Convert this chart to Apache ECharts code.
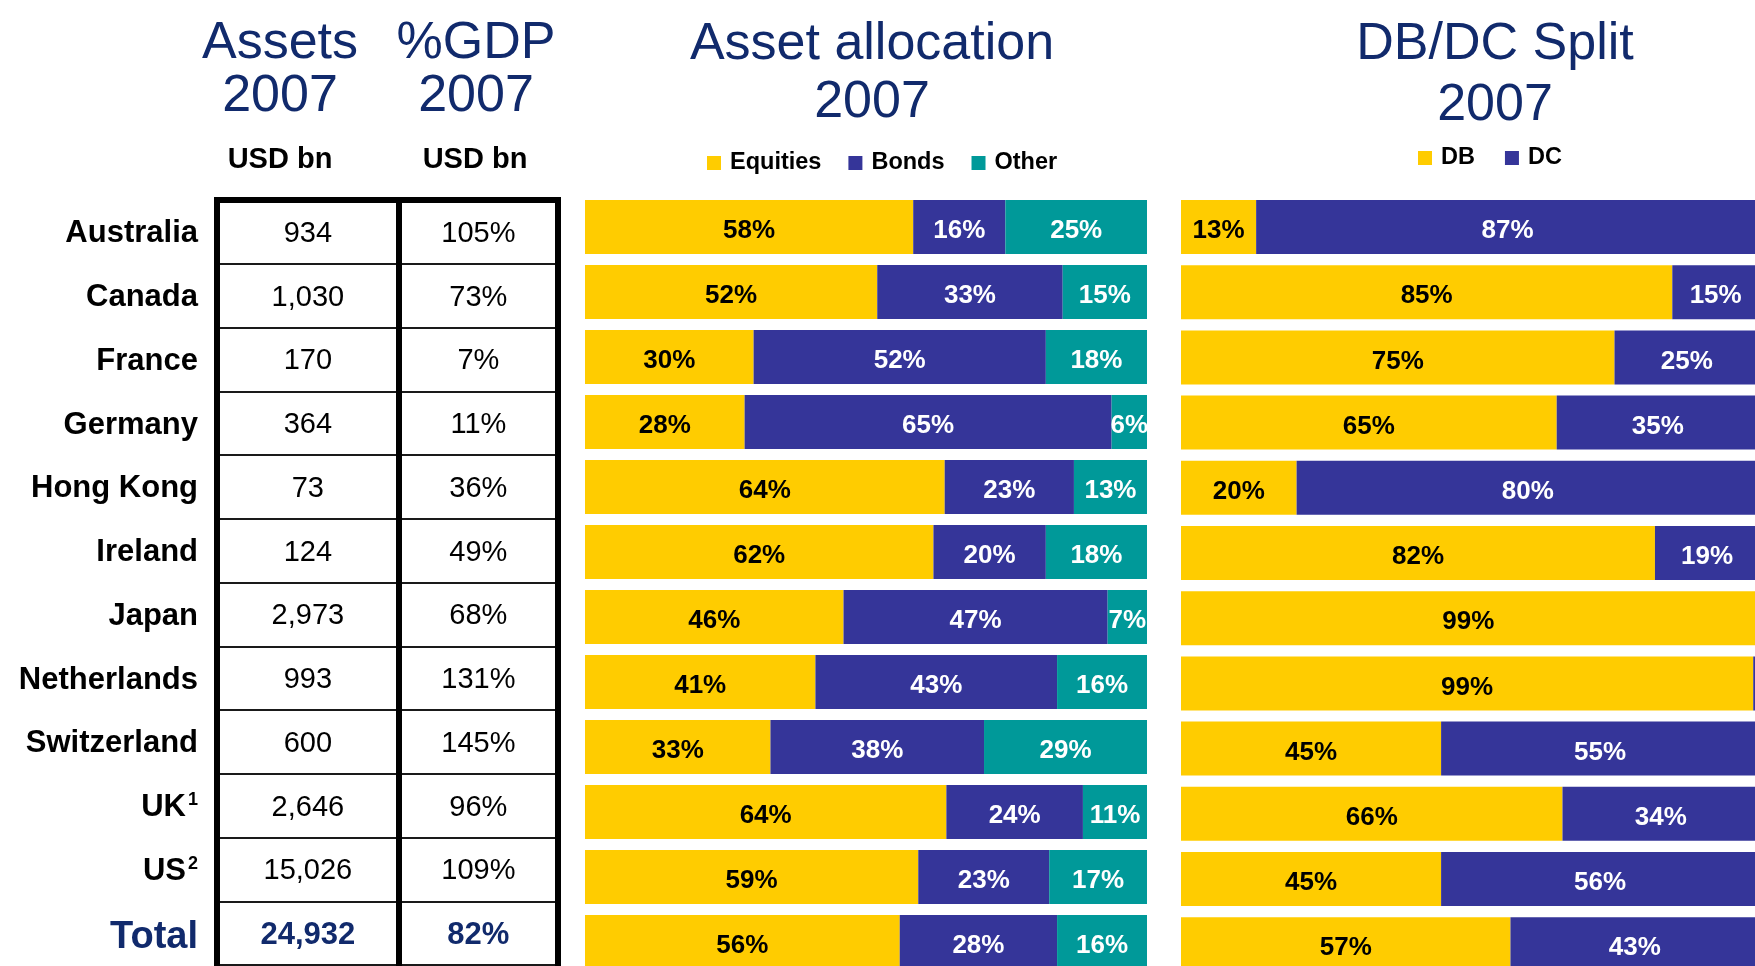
<!DOCTYPE html>
<html>
<head>
<meta charset="utf-8">
<title>Pension assets 2007</title>
<script src="https://cdn.jsdelivr.net/npm/echarts@6/dist/echarts.min.js"></script>
<style>
    html, body { margin: 0; padding: 0; background: #fff; }
    #chart { width: 1755px; height: 966px; }
</style>
</head>
<body>
<div id="chart"></div>
<script>
// data
let countries = ['Australia', 'Canada', 'France', 'Germany', 'Hong Kong', 'Ireland', 'Japan', 'Netherlands', 'Switzerland', 'UK', 'US', 'Total'];
let footnotes = ['', '', '', '', '', '', '', '', '', '1', '2', ''];
let assets = [934, 1030, 170, 364, 73, 124, 2973, 993, 600, 2646, 15026, 24932];
let gdpPct = [105, 73, 7, 11, 36, 49, 68, 131, 145, 96, 109, 82];

let assetNames = ['Equities', 'Bonds', 'Other'];
let equities = [58.4, 52, 30, 28.4, 64, 62, 46, 41, 33, 64.3, 59.3, 56];
let bonds = [16.4, 33, 52, 65.3, 23, 20, 47, 43, 38, 24.3, 23.3, 28];
let other = [25.2, 15, 18, 6.3, 13, 18, 7, 16, 29, 11.4, 17.4, 16];

let splitNames = ['DB', 'DC'];
let db = [13, 85, 75, 65, 20, 82, 99.4, 99, 45, 66, 45, 57];
let dc = [87, 15, 25, 35, 80, 19, 0.6, 1, 55, 34, 56, 43];

let font = '"Liberation Sans", Arial, sans-serif';
let navy = '#112a6c';
let yellow = '#ffcc00';
let blue = '#353599';
let teal = '#009999';
let totalIdx = countries.length - 1;

let thick = { show: true, onZero: false, lineStyle: { color: '#000', width: 6, cap: 'square' } };

function cellSeries(gridIdx, values, fmt) {
    return {
        type: 'scatter',
        xAxisIndex: gridIdx,
        yAxisIndex: gridIdx,
        symbolSize: 1,
        silent: true,
        itemStyle: { color: 'rgba(0,0,0,0)', opacity: 1 },
        label: {
            show: true,
            position: 'inside',
            offset: [0, 2],
            fontFamily: font,
            fontSize: 29,
            color: '#000',
            formatter: function (p) { return fmt(values[p.dataIndex]); }
        },
        data: values.map(function (v, i) {
            let item = { value: [0.5, i] };
            if (i === totalIdx) {
                item.label = { fontWeight: 'bold', fontSize: 31, color: navy };
            }
            return item;
        })
    };
}

function pctLabel(color, minShow) {
    return {
        show: true,
        position: 'inside',
        offset: [0, 4],
        fontFamily: font,
        fontWeight: 'bold',
        fontSize: 26,
        color: color,
        formatter: function (p) {
            return p.value < minShow ? '' : Math.round(p.value) + '%';
        }
    };
}

function titleText(x, y, text, lh) {
    return {
        type: 'text',
        x: x,
        y: y,
        style: {
            text: text,
            fill: navy,
            fontFamily: font,
            fontSize: 52,
            lineHeight: lh,
            align: 'center',
            verticalAlign: 'top',
            textAlign: 'center',
            textVerticalAlign: 'top'
        }
    };
}

function subText(x, y, text) {
    return {
        type: 'text',
        x: x,
        y: y,
        style: {
            text: text,
            fill: '#000',
            fontFamily: font,
            fontWeight: 'bold',
            fontSize: 29,
            align: 'center',
            verticalAlign: 'middle',
            textAlign: 'center',
            textVerticalAlign: 'middle'
        }
    };
}

let legendText = { fontFamily: font, fontWeight: 'bold', fontSize: 23.5, color: '#000', padding: [0, 0, 0, 4] };

let option = {
    animation: false,
    graphic: [
        titleText(280, 17, 'Assets\n2007', 53),
        titleText(476, 17, '%GDP\n2007', 53),
        titleText(872, 16, 'Asset allocation\n2007', 58),
        titleText(1495, 14, 'DB/DC Split\n2007', 61),
        subText(280, 160, 'USD bn'),
        subText(475, 160, 'USD bn')
    ],
    legend: [
        {
            data: assetNames,
            left: 702,
            top: 146,
            icon: 'rect',
            itemWidth: 14,
            itemHeight: 14,
            itemGap: 27,
            selectedMode: false,
            textStyle: legendText
        },
        {
            data: splitNames,
            left: 1413,
            top: 141,
            icon: 'rect',
            itemWidth: 14,
            itemHeight: 14,
            itemGap: 30,
            selectedMode: false,
            textStyle: legendText
        }
    ],
    grid: [
        { left: 217, top: 200, width: 181.7, height: 765, outerBoundsMode: 'none' },
        { left: 398.7, top: 200, width: 159.3, height: 765, outerBoundsMode: 'none' },
        { left: 585, top: 194.5, width: 562, height: 780, outerBoundsMode: 'none' },
        { left: 1181, top: 194.4, width: 578, height: 782.4, outerBoundsMode: 'none' }
    ],
    xAxis: [
        { gridIndex: 0, type: 'value', min: 0, max: 1, position: 'top', axisLine: thick, axisTick: { show: false }, axisLabel: { show: false }, splitLine: { show: false } },
        { gridIndex: 1, type: 'value', min: 0, max: 1, position: 'top', axisLine: thick, axisTick: { show: false }, axisLabel: { show: false }, splitLine: { show: false } },
        { gridIndex: 2, type: 'value', min: 0, max: 100, show: false },
        { gridIndex: 3, type: 'value', min: 0, max: 100, show: false }
    ],
    yAxis: [
        {
            gridIndex: 0,
            type: 'category',
            data: countries,
            inverse: true,
            axisLine: thick,
            axisTick: { show: false },
            splitLine: { show: true, interval: 0, lineStyle: { color: '#1a1a1a', width: 2 } },
            axisLabel: {
                show: true,
                interval: 0,
                margin: 19,
                formatter: function (v, i) {
                    if (i === totalIdx) return '{tot|' + v + '}';
                    if (footnotes[i]) return '{nm|' + v + '}{sup|' + footnotes[i] + '}';
                    return '{nm|' + v + '}';
                },
                rich: {
                    nm: { fontFamily: font, fontWeight: 'bold', fontSize: 31, color: '#000', lineHeight: 35, padding: [4, 0, 0, 0] },
                    sup: { fontFamily: font, fontWeight: 'bold', fontSize: 18, color: '#000', verticalAlign: 'top', lineHeight: 18, padding: [3, 0, 0, 2] },
                    tot: { fontFamily: font, fontWeight: 'bold', fontSize: 38, color: navy, lineHeight: 42, padding: [8, 0, 0, 0] }
                }
            }
        },
        {
            gridIndex: 1,
            type: 'category',
            data: countries,
            inverse: true,
            axisLine: thick,
            axisTick: { show: false },
            axisLabel: { show: false },
            splitLine: { show: true, interval: 0, lineStyle: { color: '#1a1a1a', width: 2 } }
        },
        {
            gridIndex: 1,
            type: 'category',
            data: countries,
            inverse: true,
            position: 'right',
            axisLine: thick,
            axisTick: { show: false },
            axisLabel: { show: false },
            splitLine: { show: false }
        },
        { gridIndex: 2, type: 'category', data: countries, inverse: true, show: false },
        { gridIndex: 3, type: 'category', data: countries, inverse: true, show: false }
    ],
    series: [
        cellSeries(0, assets, function (v) { return v.toLocaleString('en-US'); }),
        cellSeries(1, gdpPct, function (v) { return v + '%'; }),
        {
            name: 'Equities', type: 'bar', xAxisIndex: 2, yAxisIndex: 3, stack: 'alloc', barWidth: 54,
            itemStyle: { color: yellow }, label: pctLabel('#000', 0), data: equities
        },
        {
            name: 'Bonds', type: 'bar', xAxisIndex: 2, yAxisIndex: 3, stack: 'alloc', barWidth: 54,
            itemStyle: { color: blue }, label: pctLabel('#fff', 0), data: bonds
        },
        {
            name: 'Other', type: 'bar', xAxisIndex: 2, yAxisIndex: 3, stack: 'alloc', barWidth: 54,
            itemStyle: { color: teal }, label: pctLabel('#fff', 0), data: other
        },
        {
            name: 'DB', type: 'bar', xAxisIndex: 3, yAxisIndex: 4, stack: 'split', barWidth: 54,
            itemStyle: { color: yellow }, label: pctLabel('#000', 3), data: db
        },
        {
            name: 'DC', type: 'bar', xAxisIndex: 3, yAxisIndex: 4, stack: 'split', barWidth: 54,
            itemStyle: { color: blue }, label: pctLabel('#fff', 3), data: dc
        }
    ]
};

let myChart = echarts.init(document.getElementById('chart'));
myChart.setOption(option);
</script>
</body>
</html>
